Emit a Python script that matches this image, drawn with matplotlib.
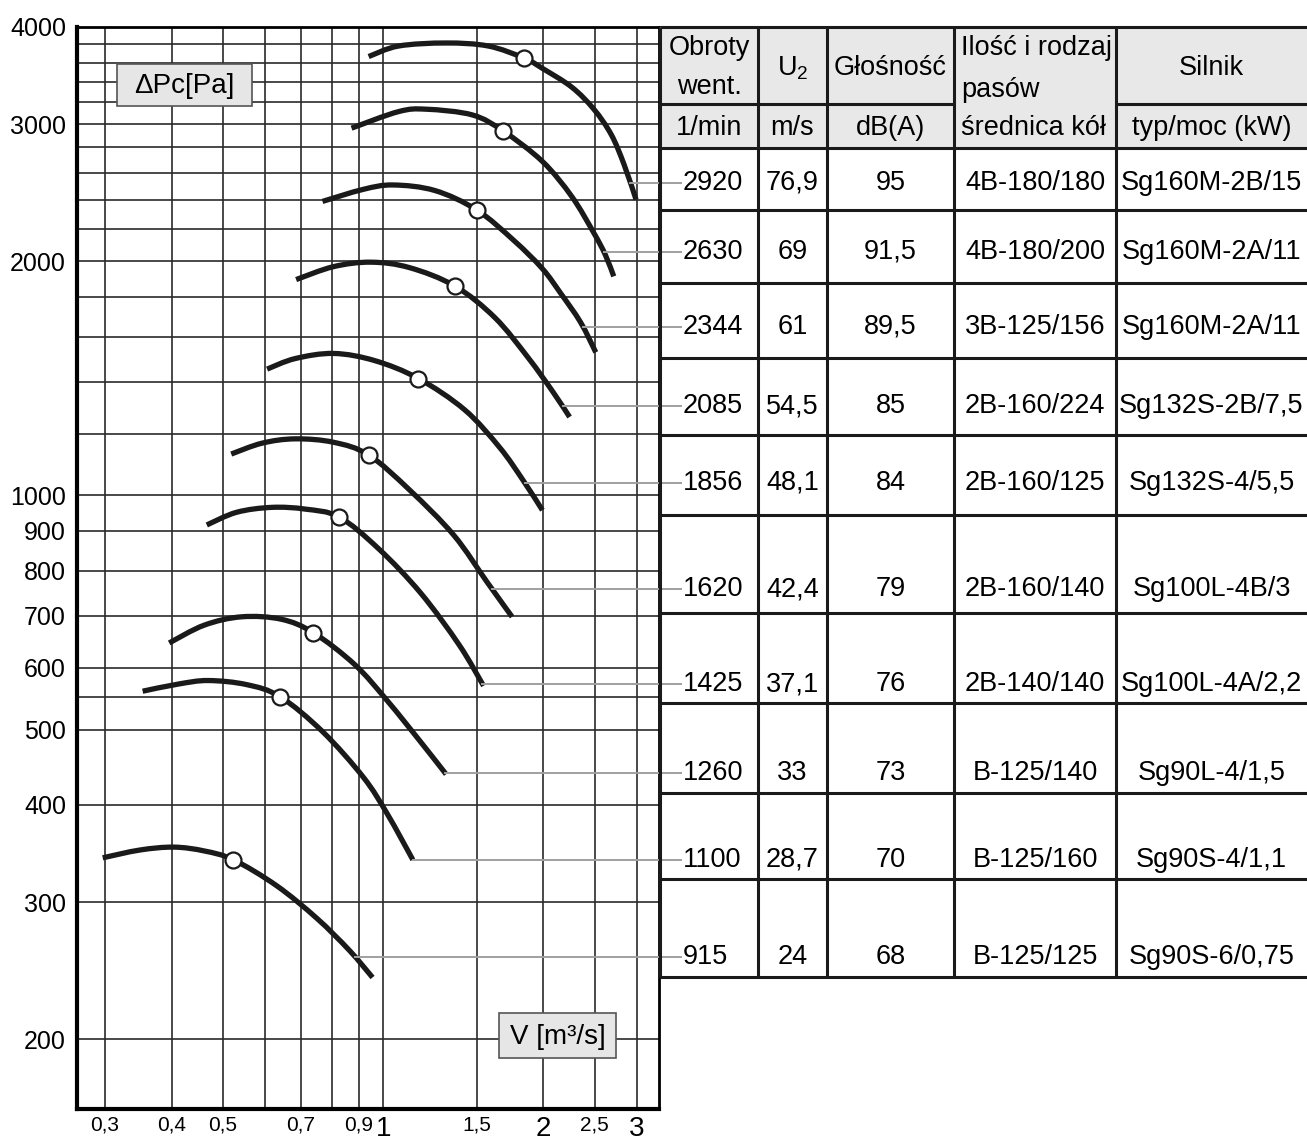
import numpy as np
import matplotlib.pyplot as plt
from matplotlib.patches import Rectangle, PathPatch
from matplotlib.path import Path

plt.rcParams['font.family'] = ['Liberation Sans', 'DejaVu Sans']
plt.rcParams['mathtext.fontset'] = 'custom'
plt.rcParams['mathtext.rm'] = 'Liberation Sans'
plt.rcParams['mathtext.it'] = 'Liberation Sans'

W, H = 1307, 1142

# fan characteristics: flow V [m3/s] vs total pressure dPc [Pa], one curve per speed
rpm = ['2920', '2630', '2344', '2085', '1856', '1620', '1425', '1260', '1100', '915']
curve_v = [
    [0.939, 1.069, 1.313, 1.576, 1.843, 1.992, 2.263, 2.489, 2.683, 2.836, 2.988],
    [0.872, 1.069, 1.205, 1.472, 1.683, 1.992, 2.263, 2.489, 2.615, 2.713],
    [0.769, 0.918, 1.044, 1.251, 1.5, 1.761, 1.992, 2.158, 2.35, 2.51],
    [0.686, 0.807, 0.949, 1.121, 1.364, 1.622, 1.873, 2.087, 2.241],
    [0.605, 0.683, 0.807, 0.964, 1.165, 1.423, 1.656, 1.835, 1.992],
    [0.518, 0.592, 0.683, 0.807, 0.939, 1.121, 1.357, 1.569, 1.747],
    [0.466, 0.53, 0.617, 0.714, 0.826, 0.98, 1.176, 1.39, 1.544],
    [0.396, 0.461, 0.542, 0.643, 0.739, 0.884, 1.019, 1.176, 1.313],
    [0.353, 0.412, 0.469, 0.554, 0.64, 0.769, 0.918, 1.019, 1.137],
    [0.297, 0.349, 0.404, 0.461, 0.523, 0.63, 0.75, 0.864, 0.955],
]
curve_p = [
    [3665, 3781, 3815, 3781, 3647, 3539, 3347, 3136, 2910, 2664, 2400],
    [2965, 3114, 3136, 3083, 2938, 2687, 2421, 2174, 2039, 1912],
    [2387, 2474, 2506, 2465, 2327, 2126, 1956, 1817, 1669, 1527],
    [1894, 1968, 1994, 1962, 1858, 1692, 1503, 1357, 1261],
    [1453, 1499, 1522, 1490, 1413, 1288, 1152, 1044, 957],
    [1130, 1167, 1182, 1170, 1127, 1016, 889, 773, 698],
    [916, 951, 965, 960, 938, 854, 749, 642, 569],
    [646, 681, 698, 693, 666, 606, 544, 482, 438],
    [560, 572, 578, 571, 551, 497, 434, 389, 340],
    [342, 350, 353, 349, 340, 315, 286, 260, 240],
]
# optimum duty point of each curve
duty_v = [1.843, 1.683, 1.5, 1.364, 1.165, 0.939, 0.826, 0.739, 0.64, 0.523]
duty_p = [3647, 2938, 2327, 1858, 1413, 1127, 938, 666, 551, 340]
# pressure where the curve is tied to its table row
label_p = [2523, 2056, 1646, 1301, 1038, 757, 572, 439, 340, 255]

u2 = ['76,9', '69', '61', '54,5', '48,1', '42,4', '37,1', '33', '28,7', '24']
noise = ['95', '91,5', '89,5', '85', '84', '79', '76', '73', '70', '68']
belts = ['4B-180/180', '4B-180/200', '3B-125/156', '2B-160/224', '2B-160/125',
         '2B-160/140', '2B-140/140', 'B-125/140', 'B-125/160', 'B-125/125']
motor = ['Sg160M-2B/15', 'Sg160M-2A/11', 'Sg160M-2A/11', 'Sg132S-2B/7,5', 'Sg132S-4/5,5',
         'Sg100L-4B/3', 'Sg100L-4A/2,2', 'Sg90L-4/1,5', 'Sg90S-4/1,1', 'Sg90S-6/0,75']

x_ticks = [0.3, 0.4, 0.5, 0.7, 0.9, 1, 1.5, 2, 2.5, 3]
x_ticklabels = ['0,3', '0,4', '0,5', '0,7', '0,9', '1', '1,5', '2', '2,5', '3']
x_minor = [0.6, 0.8]
y_ticks = [200, 300, 400, 500, 600, 700, 800, 900, 1000, 2000, 3000, 4000]
y_minor = [550, 1200, 1400, 1600, 1800, 2200, 2400, 2600, 2800, 3200, 3400, 3600, 3800]


def smooth_path(v, p):
    """Path through the points, drawn as cubic Bezier pieces (Catmull-Rom) in log space."""
    q = np.column_stack([np.log10(v), np.log10(p)])
    ext = np.vstack([q[0], q, q[-1]])
    verts, codes = [q[0]], [Path.MOVETO]
    for i in range(len(q) - 1):
        c1 = ext[i + 1] + (ext[i + 2] - ext[i]) / 6
        c2 = ext[i + 2] - (ext[i + 3] - ext[i + 1]) / 6
        verts += [c1, c2, q[i + 1]]
        codes += [Path.CURVE4] * 3
    return Path(10 ** np.array(verts), codes)


fig = plt.figure(figsize=(W / 100, H / 100), dpi=100)
ax = fig.add_axes([77 / W, 1 - 1109 / H, (659 - 77) / W, (1109 - 27) / H])
ax.set_xscale('log')
ax.set_yscale('log')
ax.set_xlim(0.2657, 3.30)
ax.set_ylim(162.6, 4000)

ax.set_xticks(x_ticks)
ax.set_xticklabels(x_ticklabels)
ax.set_xticks(x_minor, minor=True)
ax.set_yticks(y_ticks)
ax.set_yticklabels([str(v) for v in y_ticks])
ax.set_yticks(y_minor, minor=True)
ax.yaxis.set_minor_formatter(plt.NullFormatter())
ax.xaxis.set_minor_formatter(plt.NullFormatter())
ax.tick_params(which='both', length=0)
ax.tick_params(axis='y', labelsize=18, pad=8)
ax.tick_params(axis='x', labelsize=15, pad=5)
for lab in ax.get_xticklabels():
    if ',' not in lab.get_text():
        lab.set_fontsize(20)
ax.grid(True, which='both', color='#2a2a2a', lw=1.2)
for side in ['left', 'bottom']:
    ax.spines[side].set_linewidth(3)
for side in ['top', 'right']:
    ax.spines[side].set_linewidth(2)

for v, p in zip(curve_v, curve_p):
    ax.add_patch(PathPatch(smooth_path(v, p), fill=False, ec='#1a1a1a', lw=3.8,
                           capstyle='butt', joinstyle='round', zorder=4))
ax.plot(duty_v, duty_p, 'o', ms=11.5, mfc='white', mec='#1a1a1a', mew=1.6, zorder=5)

# table and axis captions drawn in pixel units on a full-figure overlay
tab = fig.add_axes([0, 0, 1, 1], zorder=3)
tab.set_xlim(0, W)
tab.set_ylim(H, 0)
tab.axis('off')
tab.patch.set_visible(False)

for (x0, y0, x1, y1), txt in [((117, 64, 252, 106), '\u0394Pc[Pa]'),
                              ((499, 1013, 616, 1058), 'V [m\u00b3/s]')]:
    tab.add_patch(Rectangle((x0, y0), x1 - x0, y1 - y0, fc='#e6e6e6', ec='#555555', lw=1.2))
    tab.text((x0 + x1) / 2, (y0 + y1) / 2 + 1, txt, fontsize=20, ha='center', va='center')

cols = [660, 758, 827, 954, 1116, 1307]
head_top, head_mid, head_bot = 27, 104, 148
row_bot = [210, 283, 358, 435, 515, 613, 703, 793, 879, 977]

tab.fill_between([cols[0], cols[-1]], head_top, head_bot, color='#e8e8e8', zorder=0)
lk = dict(color='#1a1a1a', lw=2.2, solid_capstyle='butt')
tab.plot([cols[0], W], [head_top, head_top], **lk)
for y in [head_bot] + row_bot:
    tab.plot([cols[0], W], [y, y], **lk)
tab.plot([cols[0], cols[3]], [head_mid, head_mid], **lk)
tab.plot([cols[4], W], [head_mid, head_mid], **lk)
for x in cols[:-1]:
    tab.plot([x, x], [head_top, row_bot[-1]], **lk)

fs = 19.5
cx = [(cols[i] + cols[i + 1]) / 2 for i in range(5)]
tab.text(cx[0], 48, 'Obroty', fontsize=fs, ha='center', va='center')
tab.text(cx[0], 87, 'went.', fontsize=fs, ha='center', va='center')
tab.text(cx[1], 68, r'U$_2$', fontsize=fs, ha='center', va='center')
tab.text(cx[2], 68, 'G\u0142o\u015bno\u015b\u0107', fontsize=fs, ha='center', va='center')
tab.text(961, 48, 'Ilo\u015b\u0107 i rodzaj', fontsize=fs, ha='left', va='center')
tab.text(961, 90, 'pas\u00f3w', fontsize=fs, ha='left', va='center')
tab.text(961, 128, '\u015brednica k\u00f3\u0142', fontsize=fs, ha='left', va='center')
tab.text(cx[4], 68, 'Silnik', fontsize=fs, ha='center', va='center')
tab.text(cx[0], 128, '1/min', fontsize=fs, ha='center', va='center')
tab.text(cx[1], 128, 'm/s', fontsize=fs, ha='center', va='center')
tab.text(cx[2], 128, 'dB(A)', fontsize=fs, ha='center', va='center')
tab.text(cx[4], 128, 'typ/moc (kW)', fontsize=fs, ha='center', va='center')

for i in range(len(rpm)):
    v = np.array(curve_v[i])
    p = np.array(curve_p[i])
    k = int(np.argmax(p))
    vd, pd_ = v[k:][::-1], p[k:][::-1]
    v0 = np.exp(np.interp(np.log(label_p[i]), np.log(pd_), np.log(vd)))
    dx, dy = ax.transData.transform((v0, label_p[i]))
    y = H - dy
    tab.plot([dx, 681], [y, y], color='#a0a0a0', lw=1.4, zorder=1)
    tab.text(683, y, rpm[i], fontsize=fs, ha='left', va='center')
    tab.text(cx[1], y, u2[i], fontsize=fs, ha='center', va='center')
    tab.text(cx[2], y, noise[i], fontsize=fs, ha='center', va='center')
    tab.text(cx[3], y, belts[i], fontsize=fs, ha='center', va='center')
    tab.text(cx[4], y, motor[i], fontsize=fs, ha='center', va='center')

fig.savefig('out.png', dpi=100)
